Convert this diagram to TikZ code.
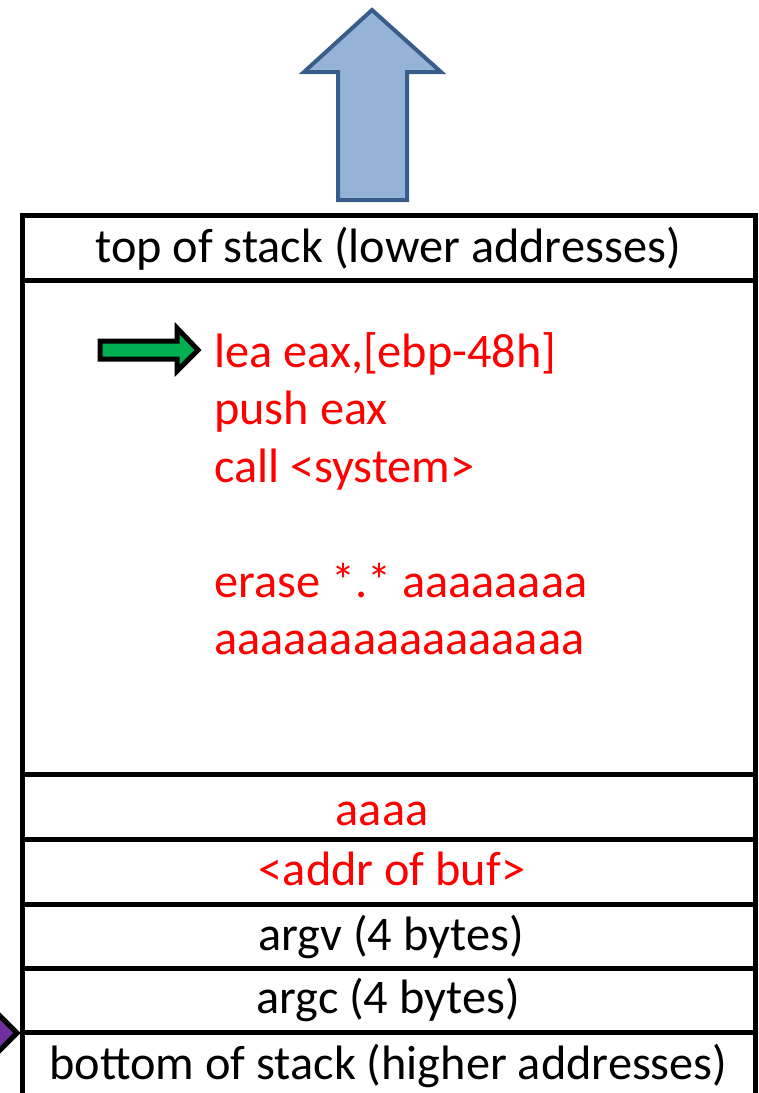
\documentclass[tikz,border=0pt]{standalone}
\usepackage{fontspec}
\setmainfont{Carlito}
\definecolor{arrowfill}{HTML}{95B3D7}
\definecolor{arrowline}{HTML}{385D8A}
\definecolor{greenfill}{HTML}{00B050}
\definecolor{purplefill}{HTML}{7030A0}
\definecolor{redtext}{HTML}{FF0000}
\begin{document}
\begin{tikzpicture}[x=1pt,y=-1pt,
  cell/.style={draw=black, line width=5pt, minimum width=733pt, inner sep=0pt, fill=white},
  celltext/.style={anchor=base, inner sep=0pt, font=\fontsize{48.3pt}{57pt}\selectfont},
  code/.style={anchor=base west, inner sep=0pt, text=redtext, font=\fontsize{48.3pt}{57pt}\selectfont},
  bigarrow/.style={draw=arrowline, fill=arrowfill, line width=4pt, line join=miter},
  smallarrow/.style={draw=black, line width=5pt, line join=miter}]
\useasboundingbox (0,0) rectangle (759,1093);
% up arrow
\draw[bigarrow] (372,10) -- (441,72) -- (407,72) -- (407,200) -- (338,200) -- (338,72) -- (304,72) -- cycle;
% stack cells
\node[cell, minimum height=65pt] (top) at (388.5,247.5) {};
\node[cell, minimum height=494pt] (buf) at (388.5,527) {};
\node[cell, minimum height=65pt] (ra) at (388.5,806.5) {};
\node[cell, minimum height=65pt] (addr) at (388.5,871.5) {};
\node[cell, minimum height=64pt] (argv) at (388.5,936) {};
\node[cell, minimum height=64pt] (argc) at (388.5,1000) {};
\node[cell, minimum height=66pt] (bottom) at (388.5,1065) {};
% texts
\node[celltext] (ttop) at (388,262) {top of stack (lower addresses)};
\node[celltext, text=redtext] (tra) at (382,825) {aaaa};
\node[celltext, text=redtext] (taddr) at (392,885) {<addr of buf>};
\node[celltext] (targv) at (391,950) {argv (4 bytes)};
\node[celltext] (targc) at (388,1013) {argc (4 bytes)};
\node[celltext] (tbottom) at (388.5,1079) {bottom of stack (higher addresses)};
% code lines
\node[code] (l1) at (214,367) {lea eax,[ebp-48h]};
\node[code] (l2) at (214,424) {push eax};
\node[code] (l3) at (214,482) {call <system>};
\node[code] (l4) at (214,597) {erase *.* aaaaaaaa};
\node[code] (l5) at (214,654) {aaaaaaaaaaaaaaaa};
% green pointer
\draw[smallarrow, fill=greenfill] (100,341) -- (177,341) -- (177,328) -- (198,350) -- (177,371) -- (177,359) -- (100,359) -- cycle;
% purple pointer
\draw[smallarrow, fill=purplefill] (17,1033) -- (-8,1008) -- (-8,1024) -- (-40,1024) -- (-40,1042) -- (-8,1042) -- (-8,1058) -- cycle;
\end{tikzpicture}
\end{document}
